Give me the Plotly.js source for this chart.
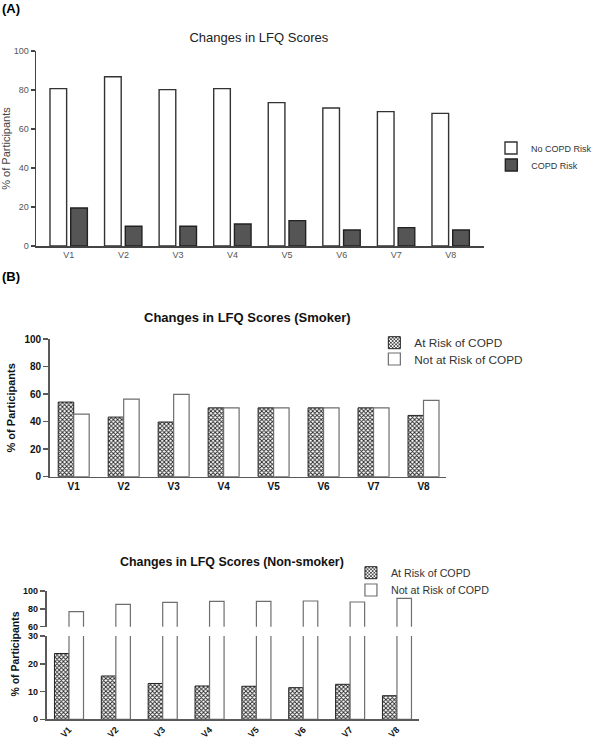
<!DOCTYPE html>
<html><head><meta charset="utf-8">
<script src="https://cdn.plot.ly/plotly-3.0.1.min.js"></script>
<style>html,body{margin:0;padding:0;background:#fff;}</style>
</head><body>
<div id="chart" style="width:597px;height:740px;"></div>
<script>
// ---- data ----
const visits = ['V1', 'V2', 'V3', 'V4', 'V5', 'V6', 'V7', 'V8'];
const noCopdRisk = [80.7, 86.8, 80.2, 80.7, 73.5, 70.8, 68.9, 68.0];
const copdRisk = [19.5, 10.1, 10.1, 11.3, 13.0, 8.2, 9.4, 8.2];
const smokerAtRisk = [54.2, 43.3, 39.7, 50, 50, 50, 50, 44.5];
const smokerNotAtRisk = [45.5, 56.4, 59.8, 50, 50, 50, 50, 55.4];
const nonSmokerAtRisk = [23.7, 15.6, 12.9, 12.0, 11.9, 11.4, 12.6, 8.5];
const nonSmokerNotAtRisk = [76.8, 85.1, 87.3, 88.4, 88.4, 88.8, 87.7, 91.8];

const W = 597, H = 740;
const px = v => v / W;
const py = v => 1 - v / H;
const FONT = 'Liberation Sans, Arial, sans-serif';

const hatch = {color: '#8a8a8a', pattern: {shape: 'x', size: 3, solidity: 0.5, fgcolor: '#222222'}, line: {color: '#222', width: 1}};
const whiteB = {color: '#ffffff', line: {color: '#6e6e6e', width: 1.2}};

const traces = [
  {type: 'bar', x: visits, y: noCopdRisk, name: 'No COPD Risk', xaxis: 'x', yaxis: 'y', legend: 'legend',
   offset: -0.345, width: 0.305, marker: {color: '#ffffff', line: {color: '#333', width: 1.4}}},
  {type: 'bar', x: visits, y: copdRisk, name: 'COPD Risk', xaxis: 'x', yaxis: 'y', legend: 'legend2',
   offset: 0.035, width: 0.305, marker: {color: '#555555', line: {color: '#222', width: 1.4}}},

  {type: 'bar', x: visits, y: smokerAtRisk, name: 'At Risk of COPD', xaxis: 'x2', yaxis: 'y2', legend: 'legend3',
   offset: -0.31, width: 0.31, marker: hatch},
  {type: 'bar', x: visits, y: smokerNotAtRisk, name: 'Not at Risk of COPD', xaxis: 'x2', yaxis: 'y2', legend: 'legend4',
   offset: 0, width: 0.31, marker: whiteB},

  {type: 'bar', x: visits, y: nonSmokerAtRisk, name: 'At Risk of COPD', xaxis: 'x3', yaxis: 'y3', legend: 'legend5',
   offset: -0.31, width: 0.31, marker: hatch},
  {type: 'bar', x: visits, y: nonSmokerNotAtRisk, name: 'Not at Risk of COPD', xaxis: 'x3', yaxis: 'y3', legend: 'legend6',
   offset: 0, width: 0.31, marker: whiteB},
  {type: 'bar', x: visits, y: nonSmokerNotAtRisk, name: 'Not at Risk of COPD', xaxis: 'x3', yaxis: 'y4', showlegend: false,
   offset: 0, width: 0.31, marker: whiteB}
];

const axA = {showgrid: false, zeroline: false, showline: true, linecolor: '#444', linewidth: 1.5, fixedrange: true};
const axB = {showgrid: false, zeroline: false, showline: true, linecolor: '#5a5a5a', linewidth: 1.6, fixedrange: true};
const boldTick = s => ({family: FONT, size: s, color: '#111', weight: 'bold'});
const leg = (xl, yc, size) => ({x: px(xl), y: py(yc), xanchor: 'left', yanchor: 'middle', bgcolor: 'rgba(0,0,0,0)',
  font: {family: FONT, size: size, color: '#333'}, tracegroupgap: 0});

const layout = {
  width: W, height: H,
  margin: {l: 0, r: 0, t: 0, b: 0},
  paper_bgcolor: '#fff', plot_bgcolor: 'rgba(0,0,0,0)',
  font: {family: FONT, color: '#333'},
  barmode: 'overlay',
  title: {text: 'Changes in LFQ Scores', x: px(265.5), y: py(37), xanchor: 'center', yanchor: 'middle',
          xref: 'paper', yref: 'paper', font: {family: FONT, size: 13, color: '#222'}},
  xaxis: Object.assign({}, axA, {domain: [px(37), px(496)], anchor: 'y', type: 'category', range: [-0.6, 7.6],
          ticks: '', tickfont: {family: FONT, size: 9, color: '#555'}}),
  yaxis: Object.assign({}, axA, {domain: [py(246), py(51)], anchor: 'x', range: [0, 100], dtick: 20,
          ticks: 'outside', ticklen: 4, tickcolor: '#444', tickwidth: 1.3,
          tickfont: {family: FONT, size: 9, color: '#555'},
          title: {text: '% of Participants', font: {family: FONT, size: 11, color: '#444'}, standoff: 7}}),

  xaxis2: Object.assign({}, axB, {domain: [px(51), px(458)], anchor: 'y2', type: 'category', range: [-0.48, 7.46],
          ticks: '', tickfont: boldTick(10)}),
  yaxis2: Object.assign({}, axB, {domain: [py(476.7), py(339)], anchor: 'x2', range: [0, 100], dtick: 20,
          ticks: 'outside', ticklen: 5, tickcolor: '#5a5a5a', tickwidth: 1.5, tickfont: boldTick(10),
          title: {text: '<b>% of Participants</b>', font: {family: FONT, size: 11, color: '#111'}, standoff: 6}}),

  xaxis3: Object.assign({}, axB, {domain: [px(47.7), px(429.3)], anchor: 'y3', type: 'category', range: [-0.48, 7.46],
          ticks: '', tickangle: -45, tickfont: boldTick(9)}),
  yaxis3: Object.assign({}, axB, {domain: [py(719.3), py(636)], anchor: 'x3', range: [0, 30], dtick: 10,
          ticks: 'outside', ticklen: 5, tickcolor: '#5a5a5a', tickwidth: 1.5, tickfont: boldTick(9)}),
  yaxis4: Object.assign({}, axB, {domain: [py(626.7), py(591)], anchor: 'x3', range: [60, 100], dtick: 20,
          ticks: 'outside', ticklen: 5, tickcolor: '#5a5a5a', tickwidth: 1.5, tickfont: boldTick(9)}),

  legend: leg(504, 148, 9),
  legend2: leg(504, 165, 9),
  legend3: leg(384, 342.7, 11.8),
  legend4: leg(384, 359, 11.8),
  legend5: leg(360, 572.7, 10.7),
  legend6: leg(360, 590, 10.7),

  annotations: [
    {text: '<b>(A)</b>', x: 0, y: py(9), xref: 'paper', yref: 'paper', xanchor: 'left', yanchor: 'middle',
     showarrow: false, font: {family: FONT, size: 13, color: '#000'}},
    {text: '<b>(B)</b>', x: 0, y: py(276), xref: 'paper', yref: 'paper', xanchor: 'left', yanchor: 'middle',
     showarrow: false, font: {family: FONT, size: 13, color: '#000'}},
    {text: '<b>Changes in LFQ Scores (Smoker)</b>', x: px(254), y: py(317.5), xref: 'paper', yref: 'paper',
     xanchor: 'center', yanchor: 'middle', showarrow: false, font: {family: FONT, size: 13, color: '#111'}},
    {text: '<b>Changes in LFQ Scores (Non-smoker)</b>', x: px(238), y: py(562), xref: 'paper', yref: 'paper',
     xanchor: 'center', yanchor: 'middle', showarrow: false, font: {family: FONT, size: 12.4, color: '#111'}},
    {text: '<b>% of Participants</b>', x: px(15), y: py(654), xref: 'paper', yref: 'paper', textangle: -90,
     xanchor: 'center', yanchor: 'middle', showarrow: false, font: {family: FONT, size: 10.5, color: '#111'}}
  ]
};

Plotly.newPlot('chart', traces, layout, {displayModeBar: false, staticPlot: true});
</script>
</body></html>
